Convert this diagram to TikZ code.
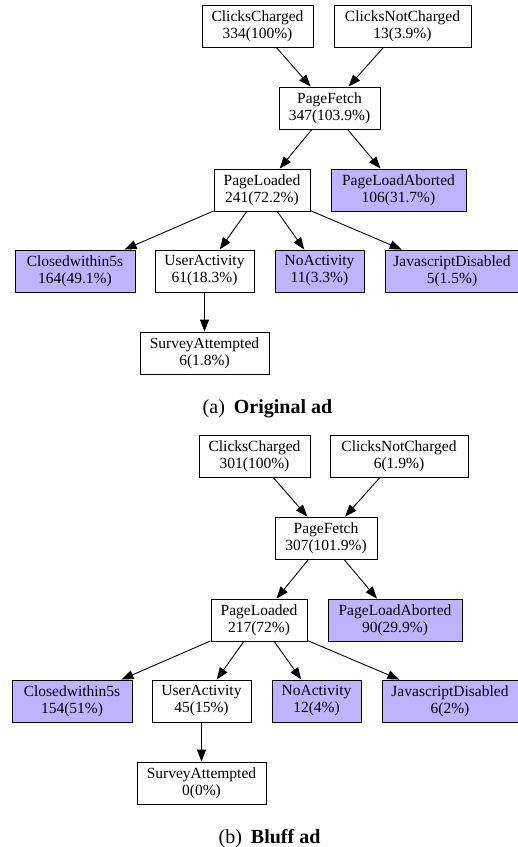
\documentclass[tikz,border=0pt]{standalone}
\usepackage{fontspec}
\setmainfont{Liberation Serif}
\usetikzlibrary{arrows.meta}
\definecolor{lostfill}{RGB}{191,179,255}
\tikzset{
  stage/.style={draw, line width=0.9pt, align=center, inner sep=1pt, minimum height=42pt, font=\fontsize{15.5}{17}\selectfont},
  lost/.style={stage, fill=lostfill},
  flow/.style={-{Triangle[length=12pt,width=9pt]}, line width=0.9pt},
  subcap/.style={anchor=base, font=\fontsize{20}{22}\selectfont}
}

\begin{document}
\begin{tikzpicture}[x=1pt,y=-1pt]
\useasboundingbox (0,0) rectangle (518,847);
% (a) original ad
\node[stage, minimum width=111pt] (aCC) at (257.5,26) {ClicksCharged\\334(100\%)};
\node[stage, minimum width=137pt] (aCN) at (402.5,26) {ClicksNotCharged\\13(3.9\%)};
\node[stage, minimum width=101pt] (aPF) at (329.5,108) {PageFetch\\347(103.9\%)};
\node[stage, minimum width=96pt] (aPL) at (262,190) {PageLoaded\\241(72.2\%)};
\node[lost, minimum width=135pt] (aPA) at (398.5,190) {PageLoadAborted\\106(31.7\%)};
\node[lost, minimum width=120pt] (aCW) at (75,271) {Closedwithin5s\\164(49.1\%)};
\node[stage, minimum width=99pt] (aUA) at (204.5,271) {UserActivity\\61(18.3\%)};
\node[lost, minimum width=89pt] (aNA) at (319.5,271) {NoActivity\\11(3.3\%)};
\node[lost, minimum width=134pt] (aJD) at (452,271) {JavascriptDisabled\\5(1.5\%)};
\node[stage, minimum width=129pt] (aSA) at (204.5,353) {SurveyAttempted\\6(1.8\%)};
\draw[flow] (aCC) -- (aPF);
\draw[flow] (aCN) -- (aPF);
\draw[flow] (aPF) -- (aPL);
\draw[flow] (aPF) -- (aPA);
\draw[flow] (aPL) -- (aCW);
\draw[flow] (aPL) -- (aUA);
\draw[flow] (aPL) -- (aNA);
\draw[flow] (aPL) -- (aJD);
\draw[flow] (aUA) -- (aSA);
\node[subcap] (capA) at (267.5,413) {(a)\hspace{0.45em}\textbf{Original ad}};
% (b) bluff ad
\node[stage, minimum width=111pt] (bCC) at (254.5,456) {ClicksCharged\\301(100\%)};
\node[stage, minimum width=138pt] (bCN) at (399,456) {ClicksNotCharged\\6(1.9\%)};
\node[stage, minimum width=102pt] (bPF) at (326,538) {PageFetch\\307(101.9\%)};
\node[stage, minimum width=96pt] (bPL) at (259,620) {PageLoaded\\217(72\%)};
\node[lost, minimum width=134pt] (bPA) at (395,620) {PageLoadAborted\\90(29.9\%)};
\node[lost, minimum width=120pt] (bCW) at (72,701) {Closedwithin5s\\154(51\%)};
\node[stage, minimum width=99pt] (bUA) at (201.5,701) {UserActivity\\45(15\%)};
\node[lost, minimum width=89pt] (bNA) at (316.5,701) {NoActivity\\12(4\%)};
\node[lost, minimum width=136pt] (bJD) at (450,701) {JavascriptDisabled\\6(2\%)};
\node[stage, minimum width=129pt] (bSA) at (201.5,783) {SurveyAttempted\\0(0\%)};
\draw[flow] (bCC) -- (bPF);
\draw[flow] (bCN) -- (bPF);
\draw[flow] (bPF) -- (bPL);
\draw[flow] (bPF) -- (bPA);
\draw[flow] (bPL) -- (bCW);
\draw[flow] (bPL) -- (bUA);
\draw[flow] (bPL) -- (bNA);
\draw[flow] (bPL) -- (bJD);
\draw[flow] (bUA) -- (bSA);
\node[subcap] (capB) at (269.5,843) {(b)\hspace{0.45em}\textbf{Bluff ad}};
\end{tikzpicture}
\end{document}
